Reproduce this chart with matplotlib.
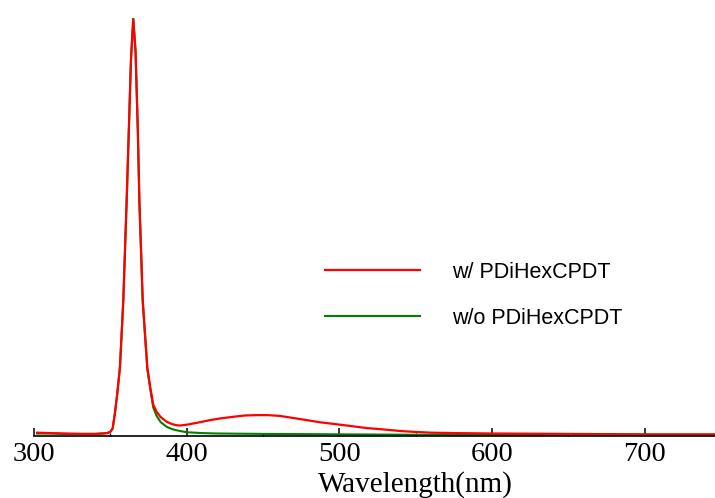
import matplotlib
matplotlib.use("Agg")
import matplotlib.pyplot as plt
from matplotlib.ticker import MultipleLocator

# emission spectra (normalised to main peak)
wl_with = [302, 310, 320, 330, 340, 345, 348, 350, 351.5, 353, 354.5, 356.3,
           358.5, 360.7, 362, 363.5, 365, 366.5, 368, 369, 371.2, 374.2, 376,
           378.1, 380.3, 383, 386.9, 390, 393, 395.6, 400, 408.7, 415.3, 422,
           430.5, 438, 445.8, 453, 461.1, 470, 478.6, 487, 496, 505, 517.9,
           528, 539.7, 548.4, 560, 575, 600, 650, 700, 750, 800]
int_with = [0.008, 0.007, 0.006, 0.005, 0.005, 0.006, 0.007, 0.010, 0.018,
            0.055, 0.100, 0.165, 0.326, 0.566, 0.720, 0.900, 0.997, 0.920,
            0.730, 0.566, 0.326, 0.165, 0.120, 0.075, 0.058, 0.045, 0.034,
            0.029, 0.026, 0.025, 0.027, 0.033, 0.038, 0.042, 0.046, 0.049,
            0.050, 0.050, 0.048, 0.043, 0.038, 0.033, 0.029, 0.025, 0.019,
            0.016, 0.012, 0.010, 0.008, 0.007, 0.006, 0.005, 0.004, 0.004,
            0.004]

wl_without = [302, 310, 320, 330, 340, 345, 348, 350, 351.5, 353, 354.5,
              356.3, 358.5, 360.7, 362, 363.5, 365, 366.5, 368, 369, 371.2,
              374.2, 376, 378.1, 380.3, 383, 386.9, 390, 393, 395.6, 400, 410,
              420, 450, 500, 550, 600, 700, 800]
int_without = [0.006, 0.006, 0.005, 0.005, 0.005, 0.006, 0.007, 0.010, 0.018,
               0.055, 0.100, 0.165, 0.326, 0.566, 0.720, 0.900, 1.000, 0.920,
               0.730, 0.560, 0.320, 0.160, 0.115, 0.068, 0.048, 0.033, 0.022,
               0.017, 0.014, 0.012, 0.009, 0.007, 0.006, 0.005, 0.004, 0.003,
               0.003, 0.003, 0.003]

labels = ["w/ PDiHexCPDT", "w/o PDiHexCPDT"]
xticks = [300, 400, 500, 600, 700]

fig = plt.figure(figsize=(7.15, 4.98), dpi=100)
# axis runs 300-800 nm, the picture is cut at ~746 nm
ax = fig.add_axes([34 / 715, 1 - 436 / 498, 763.5 / 715, 418 / 498])

ax.plot(wl_without, int_without, color="#008000", lw=1.5, label=labels[1])
ax.plot(wl_with, int_with, color="#ff0000", lw=1.6, label=labels[0])

ax.set_xlim(300, 800)
ax.set_ylim(0, 1.0)

for s in ["top", "right", "left"]:
    ax.spines[s].set_visible(False)
ax.spines["bottom"].set_linewidth(1.2)
ax.set_yticks([])

ax.set_xticks(xticks)
ax.xaxis.set_minor_locator(MultipleLocator(50))
ax.tick_params(axis="x", which="major", direction="in", length=6, width=1.1,
               pad=4, labelsize=20.5)
ax.tick_params(axis="x", which="minor", direction="in", length=2.5, width=1.0)
for t in ax.get_xticklabels():
    t.set_fontfamily("Liberation Serif")

ax.set_xlabel("Wavelength(nm)", fontsize=21, family="Liberation Serif",
              labelpad=3)

handles, labs = ax.get_legend_handles_labels()
ax.legend(handles[::-1], labs[::-1], loc="center left",
          bbox_to_anchor=(325 / 715, 1 - 295.5 / 498),
          bbox_transform=fig.transFigure, frameon=False, borderpad=0,
          borderaxespad=0, handlelength=4.4, handletextpad=1.5,
          labelspacing=1.16, prop={"family": "Liberation Sans", "size": 15.5})

fig.savefig("out.png", dpi=100)
